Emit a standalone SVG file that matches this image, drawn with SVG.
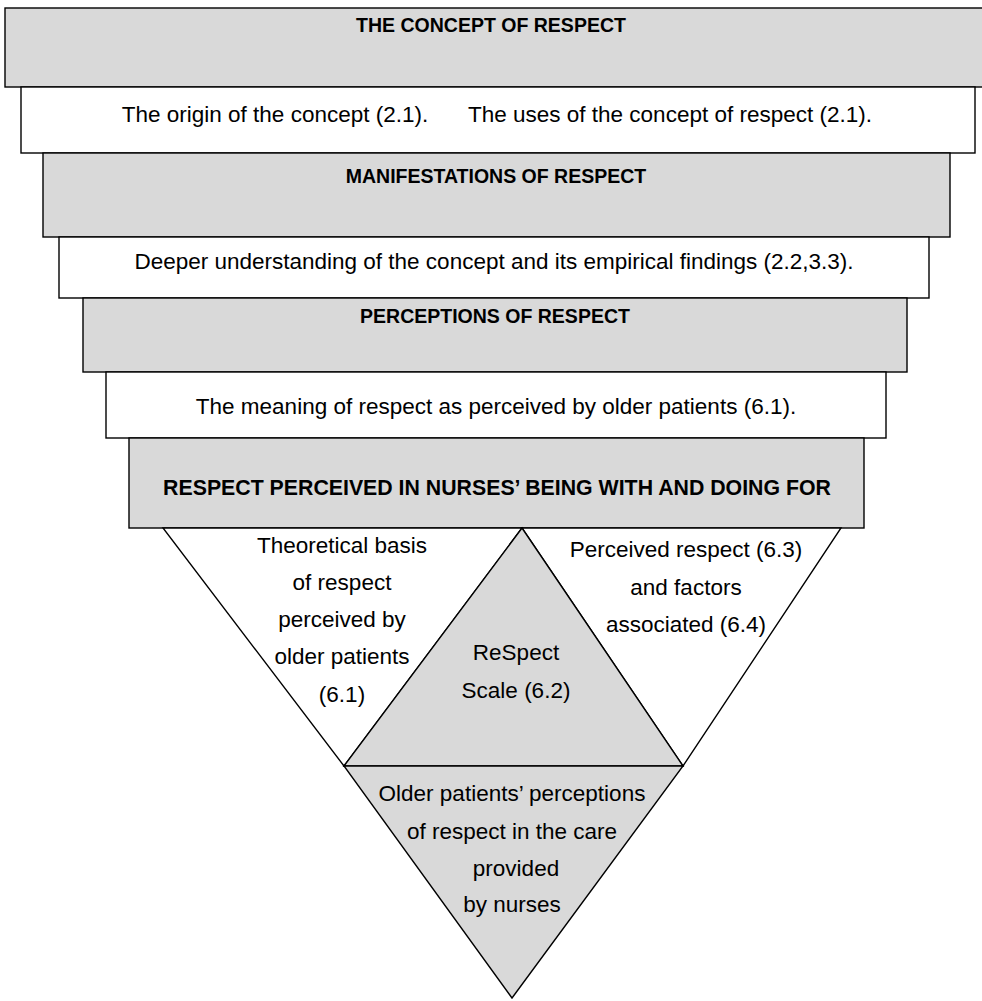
<svg xmlns="http://www.w3.org/2000/svg" width="982" height="1001" viewBox="0 0 982 1001">
<style>
.g{fill:#d9d9d9;stroke:#000;stroke-width:1.4}
.w{fill:#fff;stroke:#000;stroke-width:1.4}
.h{font-family:"Liberation Sans",Arial,sans-serif;font-weight:bold;font-size:19.5px;fill:#000;text-anchor:middle}
.hb{font-size:21.3px}
.t{font-family:"Liberation Sans",Arial,sans-serif;font-size:22.5px;fill:#000;text-anchor:middle}
</style>
<rect width="982" height="1001" fill="#fff"/>
<g id="concept">
<rect class="g" x="5" y="8" width="990" height="79"/>
<text class="h" x="491" y="32">THE CONCEPT OF RESPECT</text>
</g>
<g id="origin-uses">
<rect class="w" x="21" y="87" width="954" height="66"/>
<text class="t" x="275" y="122">The origin of the concept (2.1).</text>
<text class="t" x="670" y="122">The uses of the concept of respect (2.1).</text>
</g>
<g id="manifestations">
<rect class="g" x="43" y="153" width="907" height="84"/>
<text class="h" x="496" y="183">MANIFESTATIONS OF RESPECT</text>
</g>
<g id="deeper">
<rect class="w" x="59" y="237" width="870" height="61"/>
<text class="t" x="494" y="269">Deeper understanding of the concept and its empirical findings (2.2,3.3).</text>
</g>
<g id="perceptions">
<rect class="g" x="83" y="298" width="824" height="74"/>
<text class="h" x="495" y="323">PERCEPTIONS OF RESPECT</text>
</g>
<g id="meaning">
<rect class="w" x="106" y="372" width="780" height="66"/>
<text class="t" x="496" y="414">The meaning of respect as perceived by older patients (6.1).</text>
</g>
<g id="being-with">
<rect class="g" x="129" y="438" width="735" height="90"/>
<text class="h hb" x="497" y="495">RESPECT PERCEIVED IN NURSES’ BEING WITH AND DOING FOR</text>
</g>
<g id="theoretical">
<polygon class="w" points="163,528 522,528 344,766"/>
<text class="t" x="342" y="553">Theoretical basis</text>
<text class="t" x="342" y="590">of respect</text>
<text class="t" x="342" y="627">perceived by</text>
<text class="t" x="342" y="664">older patients</text>
<text class="t" x="342" y="702">(6.1)</text>
</g>
<g id="perceived">
<polygon class="w" points="522,528 841,528 683,766"/>
<text class="t" x="686" y="557">Perceived respect (6.3)</text>
<text class="t" x="686" y="595">and factors</text>
<text class="t" x="686" y="632">associated (6.4)</text>
</g>
<g id="scale">
<polygon class="g" points="344,766 522,528 683,766"/>
<text class="t" x="516" y="660">ReSpect</text>
<text class="t" x="516" y="698">Scale (6.2)</text>
</g>
<g id="older-patients">
<polygon class="g" points="344,766 683,766 512,998"/>
<text class="t" x="512" y="801">Older patients’ perceptions</text>
<text class="t" x="512" y="839">of respect in the care</text>
<text class="t" x="516" y="876">provided</text>
<text class="t" x="512" y="912">by nurses</text>
</g>
</svg>
